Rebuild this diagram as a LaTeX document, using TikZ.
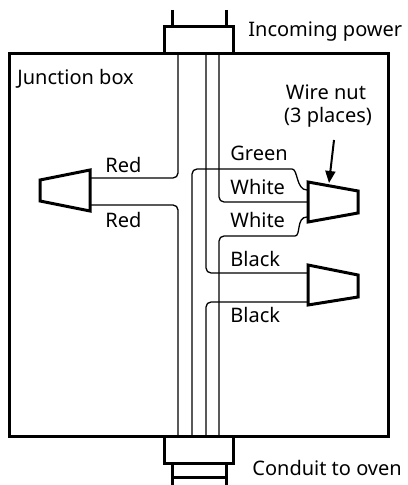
\documentclass[tikz,border=0pt]{standalone}
\usepackage{fontspec}
\setmainfont{Noto Sans}
\usetikzlibrary{arrows.meta}

\tikzset{
  heavy/.style={line width=1.5pt, line join=miter},
  wire/.style={line width=0.65pt, rounded corners=2.5pt},
  nut/.style={line width=1.5pt, line join=miter},
  lbl/.style={inner sep=0pt, anchor=base west, font=\fontsize{10}{12}\selectfont},
}

\begin{document}
\begin{tikzpicture}[x=0.5pt, y=-0.5pt, >={Stealth[length=6pt,width=5pt,inset=0pt]}]
\useasboundingbox (0,0) rectangle (407,485);

\draw[heavy] (9,54) rectangle (388,436);
\draw[heavy] (172,10) -- (172,27);
\draw[heavy] (226,10) -- (226,27);
\draw[heavy] (164,27) rectangle (233,54);
\draw[heavy] (164,436) rectangle (233,463);
\draw[heavy] (172,463) -- (172,485);
\draw[heavy] (226,463) -- (226,485);
\draw[heavy] (172,477) -- (226,477);

\coordinate (inR) at (178,54);
\coordinate (inB) at (206,54);
\coordinate (inW) at (219,54);
\coordinate (outR) at (178,436);
\coordinate (outG) at (192,436);
\coordinate (outB) at (206,436);
\coordinate (outW) at (219,436);
\coordinate (redT) at (90,178);
\coordinate (redL) at (90,205);
\coordinate (bendG) at (287,169);
\coordinate (nutG) at (307,190);
\coordinate (nutW) at (308,202);
\coordinate (bendW) at (290,236);
\coordinate (nutW2) at (307,217);
\coordinate (nutB) at (308,273);
\coordinate (nutB2) at (308,302);

\draw[wire] (inR) |- (redT);
\draw[wire] (outR) |- (redL);
\draw[wire] (outG) |- (bendG) .. controls (298,169) and (296,190) .. (nutG);
\draw[wire] (inW) |- (nutW);
\draw[wire] (outW) |- (bendW) .. controls (301,236) and (296,217) .. (nutW2);
\draw[wire] (inB) |- (nutB);
\draw[wire] (outB) |- (nutB2);

\draw[nut] (40,180) -- (90,170) -- (90,211) -- (40,201) -- cycle;
\draw[nut] (308,182) -- (358,191) -- (358,213) -- (308,222) -- cycle;
\draw[nut] (308,265) -- (358,275) -- (358,297) -- (308,305) -- cycle;

\node[lbl] (junction) at (17,85) {Junction box};
\node[lbl] (incoming) at (248,37) {Incoming power};
\node[lbl] (conduit) at (252,475) {Conduit to oven};
\node[lbl, anchor=base] (wirenut) at (326,100) {Wire nut};
\node[lbl, anchor=base] (places) at (328,123) {(3 places)};
\node[lbl] (redtop) at (105,173) {Red};
\node[lbl] (redbot) at (105,228) {Red};
\node[lbl] (green) at (230,161) {Green};
\node[lbl] (whitetop) at (230,195) {White};
\node[lbl] (whitebot) at (230,228) {White};
\node[lbl] (blacktop) at (230,267) {Black};
\node[lbl] (blackbot) at (230,322) {Black};

\coordinate (tip) at (329,183);
\draw[->, line width=1pt] (334,140) -- (tip);

\end{tikzpicture}
\end{document}
